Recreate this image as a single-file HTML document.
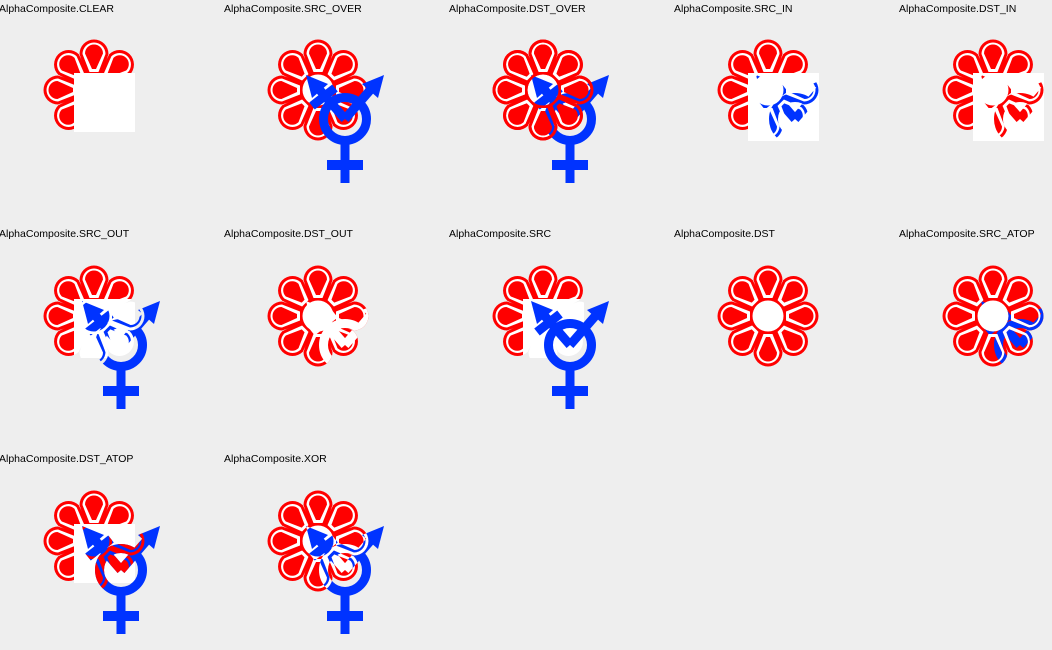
<!DOCTYPE html>
<html><head><meta charset="utf-8"><style>
html,body{margin:0;padding:0;background:#eeeeee;}
svg{display:block;}
text{font-family:"Liberation Sans",sans-serif;font-size:10.5px;fill:#000;}
</style></head><body>
<svg id="chart" width="1052" height="650" viewBox="0 0 1052 650" xmlns="http://www.w3.org/2000/svg" xmlns:xlink="http://www.w3.org/1999/xlink">
<rect width="1052" height="650" fill="#eeeeee"/>
<defs>
  <path id="p1" d="M -7.5,-15 L -14.5,-36 A 14.5 14.5 0 1 1 14.5,-36 L 7.5,-15 Z"/>
  <path id="p2" d="M -4.5,-18 L -11.5,-36 A 11.5 11.5 0 1 1 11.5,-36 L 4.5,-18 Z"/>
  <path id="p3" d="M -2,-21 L -9,-36.5 A 9 9 0 1 1 9,-36.5 L 2,-21 Z"/>
  <g id="ring1"><use xlink:href="#p1" transform="rotate(0)"/><use xlink:href="#p1" transform="rotate(45)"/>
      <use xlink:href="#p1" transform="rotate(90)"/><use xlink:href="#p1" transform="rotate(135)"/>
      <use xlink:href="#p1" transform="rotate(180)"/><use xlink:href="#p1" transform="rotate(225)"/>
      <use xlink:href="#p1" transform="rotate(270)"/><use xlink:href="#p1" transform="rotate(315)"/></g>
  <g id="ring2"><use xlink:href="#p2" transform="rotate(0)"/><use xlink:href="#p2" transform="rotate(45)"/>
      <use xlink:href="#p2" transform="rotate(90)"/><use xlink:href="#p2" transform="rotate(135)"/>
      <use xlink:href="#p2" transform="rotate(180)"/><use xlink:href="#p2" transform="rotate(225)"/>
      <use xlink:href="#p2" transform="rotate(270)"/><use xlink:href="#p2" transform="rotate(315)"/></g>
  <g id="ring3"><use xlink:href="#p3" transform="rotate(0)"/><use xlink:href="#p3" transform="rotate(45)"/>
      <use xlink:href="#p3" transform="rotate(90)"/><use xlink:href="#p3" transform="rotate(135)"/>
      <use xlink:href="#p3" transform="rotate(180)"/><use xlink:href="#p3" transform="rotate(225)"/>
      <use xlink:href="#p3" transform="rotate(270)"/><use xlink:href="#p3" transform="rotate(315)"/></g>
  <g id="flower" transform="translate(94,90)">
    <circle r="19" fill="#ff0000"/>
    <g fill="#ff0000"><use xlink:href="#ring1"/></g>
    <g fill="#ffffff"><use xlink:href="#ring2"/></g>
    <g fill="#ff0000"><use xlink:href="#ring3"/></g>
    <circle r="15.5" fill="#ffffff"/>
  </g>
  <g id="flowerSil" transform="translate(94,90)" fill="#ffffff">
    <circle r="19"/><use xlink:href="#ring1"/>
  </g>
  <mask id="mRed" maskUnits="userSpaceOnUse" x="0" y="0" width="225" height="225">
    <g transform="translate(94,90)">
      <circle r="19" fill="#fff"/>
      <g fill="#fff"><use xlink:href="#ring1"/></g>
      <g fill="#000"><use xlink:href="#ring2"/></g>
      <g fill="#fff"><use xlink:href="#ring3"/></g>
      <circle r="15.5" fill="#000"/>
    </g>
  </mask>
  <mask id="mNotRed" maskUnits="userSpaceOnUse" x="0" y="0" width="225" height="225">
    <rect width="225" height="225" fill="#fff"/>
    <g transform="translate(94,90)">
      <circle r="19" fill="#000"/>
      <g fill="#000"><use xlink:href="#ring1"/></g>
      <g fill="#fff"><use xlink:href="#ring2"/></g>
      <g fill="#000"><use xlink:href="#ring3"/></g>
      <circle r="15.5" fill="#fff"/>
    </g>
  </mask>
  <g id="flowerRed"><rect x="0" y="0" width="225" height="225" fill="#ff0000" mask="url(#mRed)"/></g>
  <g id="flowerRedW"><rect x="0" y="0" width="225" height="225" fill="#ffffff" mask="url(#mRed)"/></g>
  <g id="symShape">
    <circle cx="121" cy="119" r="21.5" fill="none" stroke-width="9"/>
    <line x1="121" y1="140" x2="121" y2="183" stroke-width="9"/>
    <line x1="103" y1="165" x2="139" y2="165" stroke-width="10"/>
    <line x1="121" y1="119" x2="148" y2="88" stroke-width="9"/>
    <line x1="121" y1="119" x2="94" y2="88" stroke-width="9"/>
    <line x1="88" y1="106" x2="111" y2="88" stroke-width="9"/>
    <polygon points="160,75 154,98 138,84" stroke="none"/>
    <polygon points="82,75 88,98 104,84" stroke="none"/>
  </g>
  <g id="sym" fill="#0033ff" stroke="#0033ff"><use xlink:href="#symShape"/></g>
  <g id="symW" fill="#ffffff" stroke="#ffffff"><use xlink:href="#symShape"/></g>
  <g id="symB" fill="#000000" stroke="#000000"><use xlink:href="#symShape"/></g>
  <mask id="mFlower" maskUnits="userSpaceOnUse" x="0" y="0" width="225" height="225"><use xlink:href="#flowerSil"/></mask>
  <mask id="mSym" maskUnits="userSpaceOnUse" x="0" y="0" width="225" height="225"><use xlink:href="#symW"/></mask>
  <mask id="mNotSym" maskUnits="userSpaceOnUse" x="0" y="0" width="225" height="225">
    <rect width="225" height="225" fill="#fff"/><use xlink:href="#symB"/>
  </mask>
  <clipPath id="sq" clipPathUnits="userSpaceOnUse"><rect x="74" y="73" width="151" height="152"/></clipPath>
  <rect id="wbox" x="74" y="73" width="61" height="59" fill="#ffffff"/>
  <rect id="wboxL" x="74" y="73" width="71" height="68" fill="#ffffff"/>
  <rect id="grey" x="74" y="73" width="151" height="152" fill="#eeeeee"/>
</defs>

<g transform="translate(0,0)">
  <text x="-1" y="12">AlphaComposite.CLEAR</text>
  <use xlink:href="#flower"/>
  <g clip-path="url(#sq)"><use xlink:href="#grey"/><use xlink:href="#wbox"/></g>
</g>
<g transform="translate(224,0)">
  <text x="0" y="12">AlphaComposite.SRC_OVER</text>
  <use xlink:href="#flower"/>
  <g clip-path="url(#sq)"><use xlink:href="#sym"/></g>
</g>
<g transform="translate(449,0)">
  <text x="0" y="12">AlphaComposite.DST_OVER</text>
  <use xlink:href="#flower"/>
  <g clip-path="url(#sq)"><use xlink:href="#sym"/></g>
  <use xlink:href="#flowerRed"/>
</g>
<g transform="translate(674,0)">
  <text x="0" y="12">AlphaComposite.SRC_IN</text>
  <use xlink:href="#flower"/>
  <g clip-path="url(#sq)"><use xlink:href="#grey"/><use xlink:href="#wboxL"/>
    <g mask="url(#mRed)"><use xlink:href="#sym"/></g></g>
</g>
<g transform="translate(899,0)">
  <text x="0" y="12">AlphaComposite.DST_IN</text>
  <use xlink:href="#flower"/>
  <g clip-path="url(#sq)"><use xlink:href="#grey"/><use xlink:href="#wboxL"/>
    <g mask="url(#mSym)"><use xlink:href="#flowerRed"/></g></g>
</g>

<g transform="translate(0,226)">
  <text x="-1" y="11">AlphaComposite.SRC_OUT</text>
  <use xlink:href="#flower"/>
  <g clip-path="url(#sq)"><use xlink:href="#grey"/>
    <g mask="url(#mFlower)"><use xlink:href="#wbox"/></g>
    <g mask="url(#mNotRed)"><use xlink:href="#sym"/></g></g>
</g>
<g transform="translate(224,226)">
  <text x="0" y="11">AlphaComposite.DST_OUT</text>
  <use xlink:href="#flower"/>
  <g clip-path="url(#sq)"><g mask="url(#mFlower)"><use xlink:href="#symW"/></g></g>
</g>
<g transform="translate(449,226)">
  <text x="0" y="11">AlphaComposite.SRC</text>
  <use xlink:href="#flower"/>
  <g clip-path="url(#sq)"><use xlink:href="#grey"/><g mask="url(#mFlower)"><use xlink:href="#wbox"/></g><use xlink:href="#sym"/></g>
</g>
<g transform="translate(674,226)">
  <text x="0" y="11">AlphaComposite.DST</text>
  <use xlink:href="#flower"/>
</g>
<g transform="translate(899,226)">
  <text x="0" y="11">AlphaComposite.SRC_ATOP</text>
  <use xlink:href="#flower"/>
  <g clip-path="url(#sq)"><g mask="url(#mRed)"><use xlink:href="#sym"/></g></g>
</g>

<g transform="translate(0,451)">
  <text x="-1" y="11">AlphaComposite.DST_ATOP</text>
  <use xlink:href="#flower"/>
  <g clip-path="url(#sq)"><use xlink:href="#grey"/><use xlink:href="#wbox"/>
    <use xlink:href="#sym"/>
    <g mask="url(#mSym)"><use xlink:href="#flowerRed"/></g></g>
</g>
<g transform="translate(224,451)">
  <text x="0" y="11">AlphaComposite.XOR</text>
  <use xlink:href="#flower"/>
  <g clip-path="url(#sq)">
    <g mask="url(#mRed)"><use xlink:href="#symW"/></g>
    <g mask="url(#mNotRed)"><use xlink:href="#sym"/></g>
  </g>
</g>
</svg>
</body></html>
